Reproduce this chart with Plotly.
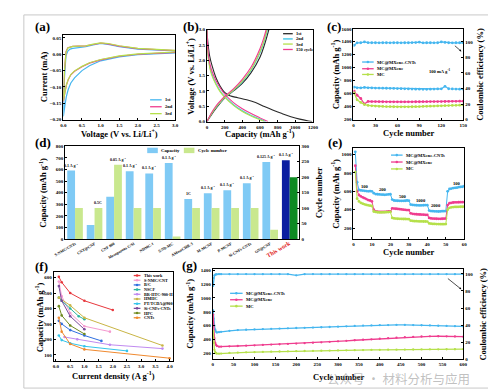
import plotly.graph_objects as go

W, H = 496, 389
FONT = "Liberation Serif"

def px(x):
    return x / W

def py(y):
    return 1 - y / H

# ---------------- (a) CV data ----------------
a_volt = [3.0, 2.5, 2.0, 1.5, 1.0, 0.7, 0.5, 0.3, 0.2, 0.13, 0.08, 0.04, 0.01, 0.0,
          0.03, 0.07, 0.12, 0.18, 0.25, 0.4, 0.6, 0.8, 1.0, 1.2, 1.5, 2.0, 2.5, 3.0]
a_cur_1st = [0.004, 0.002, -0.001, -0.008, -0.020, -0.035, -0.050, -0.072, -0.088, -0.108, -0.130, -0.158, -0.185, -0.19,
             -0.07, -0.005, 0.010, 0.016, 0.018, 0.020, 0.023, 0.029, 0.033, 0.030, 0.023, 0.016, 0.012, 0.010]
a_cur_2nd = [0.006, 0.004, 0.000, -0.006, -0.017, -0.027, -0.038, -0.052, -0.063, -0.078, -0.095, -0.118, -0.140, -0.145,
             -0.05, 0.008, 0.020, 0.023, 0.024, 0.025, 0.026, 0.030, 0.034, 0.032, 0.025, 0.017, 0.013, 0.011]
a_cur_3rd = [0.007, 0.005, 0.001, -0.005, -0.016, -0.026, -0.037, -0.051, -0.062, -0.077, -0.094, -0.117, -0.138, -0.143,
             -0.05, 0.006, 0.019, 0.022, 0.024, 0.025, 0.026, 0.031, 0.035, 0.033, 0.026, 0.018, 0.014, 0.012]
a_names = ["1st", "2nd", "3rd"]

# ---------------- (b) charge/discharge ----------------
b_dis1_cap = [0, 10, 30, 60, 100, 150, 200, 260, 350, 450, 550, 650, 750, 850, 950, 1050, 1150, 1190]
b_dis1_v = [3.0, 2.6, 2.15, 1.8, 1.45, 1.15, 0.95, 0.84, 0.78, 0.71, 0.62, 0.49, 0.37, 0.26, 0.16, 0.08, 0.02, 0.0]
b_ch1_cap = [0, 50, 100, 150, 200, 300, 400, 500, 600, 650, 700]
b_ch1_v = [0.0, 0.22, 0.42, 0.60, 0.77, 1.0, 1.25, 1.6, 2.1, 2.5, 3.0]
b_dis2_cap = [0, 5, 20, 50, 100, 150, 200, 300, 400, 500, 600, 665]
b_dis2_v = [3.0, 2.5, 2.0, 1.6, 1.25, 1.0, 0.82, 0.55, 0.35, 0.2, 0.08, 0.0]
b_ch2_cap = [0, 50, 100, 150, 200, 300, 400, 500, 600, 640, 685]
b_ch2_v = [0.0, 0.25, 0.45, 0.62, 0.78, 1.02, 1.3, 1.68, 2.25, 2.55, 3.0]
b_dis3_cap = [0, 5, 20, 50, 100, 150, 200, 300, 400, 500, 600, 650]
b_dis3_v = [3.0, 2.45, 1.95, 1.55, 1.22, 0.97, 0.8, 0.53, 0.33, 0.18, 0.06, 0.0]
b_ch3_cap = [0, 50, 100, 150, 200, 300, 400, 500, 600, 640, 680]
b_ch3_v = [0.0, 0.25, 0.46, 0.63, 0.79, 1.03, 1.32, 1.7, 2.28, 2.58, 3.0]
b_dis150_cap = [0, 5, 20, 50, 100, 150, 200, 300, 400, 500, 600, 690]
b_dis150_v = [3.0, 2.6, 2.1, 1.7, 1.35, 1.1, 0.9, 0.62, 0.42, 0.26, 0.12, 0.0]
b_ch150_cap = [0, 50, 100, 150, 200, 300, 400, 500, 600, 640, 670]
b_ch150_v = [0.0, 0.28, 0.5, 0.67, 0.82, 1.07, 1.38, 1.78, 2.38, 2.7, 3.0]
b_names = ["1st", "2nd", "3rd", "150 cycle"]

# ---------------- (c) cycling at 100 mA/g ----------------
c_cycles = [1, 5, 10, 15, 20, 25, 30, 35, 40, 45, 50, 55, 60, 65, 70, 75, 80, 85, 90, 95,
            100, 105, 110, 115, 120, 125, 130, 135, 140, 145, 150]
c_cap_cnt = [700, 690, 688, 695, 690, 688, 686, 685, 684, 683, 682, 680, 678, 676, 674, 672, 670, 668, 668, 666,
             667, 668, 670, 672, 674, 712, 675, 672, 670, 668, 668]
c_cap_mx = [640, 575, 525, 440, 480, 478, 477, 476, 475, 474, 474, 473, 473, 473, 473, 474, 474, 475, 475, 476,
            476, 477, 477, 478, 478, 479, 480, 481, 482, 483, 484]
c_cap_mc = [610, 505, 465, 432, 418, 412, 408, 405, 403, 401, 400, 398, 397, 396, 396, 397, 398, 399, 400, 402,
            404, 406, 408, 410, 412, 414, 416, 418, 420, 422, 425]
c_ce_cnt = [95.5, 98.6, 98.7, 99.8, 98.8, 98.7, 98.7, 98.6, 98.7, 98.7, 98.6, 98.7, 98.7, 98.6, 98.7, 98.7, 98.8, 98.9,
            99.5, 98.6, 98.7, 98.7, 98.6, 98.7, 99.8, 99.2, 98.7, 98.6, 98.7, 98.7, 98.6]
s_names = ["MC@MXene-CNTs", "MC@MXene", "MC"]

# ---------------- (d) comparison bars ----------------
d_labels = ["S-NMC/CNTs", "CNT@CNF", "CNF 800", "Mesoporous C/Si", "NDMC-1", "S/Nb-MC",
            "AMesoCHR-3", "M-MCNF", "P-MCNF", "Si-CNFs-CNTs", "GN@CNF", "This work"]
d_capacity = [590, 120, 365, 585, 565, 655, 345, 395, 420, 480, 665, 680]
d_cycles = [100, 100, 240, 100, 100, 8, 100, 100, 100, 100, 30, 200]
d_rates = ["0.1 A g<sup>-1</sup>", "0.5C", "0.05 A g<sup>-1</sup>", "0.1 A g<sup>-1</sup>", "0.1 A g<sup>-1</sup>",
           "0.1 A g<sup>-1</sup>", "1C", "0.1 A g<sup>-1</sup>", "0.1 A g<sup>-1</sup>", "0.1 A g<sup>-1</sup>",
           "0.125 A g<sup>-1</sup>", "0.1 A g<sup>-1</sup>"]
d_rate_on_cycle = [False, True, True, False, False, False, False, False, False, False, False, False]

# ---------------- (e) rate performance ----------------
e_cycles = list(range(1, 61))
e_cap_cnt = [1030, 700, 615, 610, 608, 605, 603, 600, 602, 600, 580, 570, 568, 566, 565, 563, 562, 565, 566, 568,
             510, 500, 498, 497, 496, 495, 496, 497, 500, 498, 455, 452, 450, 448, 447, 446, 447, 448, 450, 449,
             390, 385, 383, 382, 381, 380, 381, 383, 384, 385, 600, 625, 630, 635, 638, 640, 645, 648, 650, 655]
e_cap_mx = [880, 600, 560, 545, 535, 525, 515, 505, 500, 490, 400, 380, 378, 376, 375, 375, 376, 378, 380, 382,
            415, 412, 410, 408, 405, 403, 400, 398, 396, 395, 360, 355, 352, 350, 348, 347, 346, 345, 344, 343,
            310, 305, 303, 302, 301, 300, 300, 301, 302, 303, 450, 470, 475, 478, 480, 480, 481, 482, 482, 483]
e_cap_mc = [810, 520, 490, 475, 465, 458, 452, 447, 443, 440, 380, 375, 372, 370, 370, 371, 372, 373, 374, 375,
            310, 305, 303, 301, 300, 299, 298, 298, 297, 296, 280, 277, 275, 274, 273, 272, 272, 271, 271, 270,
            250, 247, 245, 244, 243, 243, 242, 242, 242, 243, 400, 420, 425, 428, 430, 430, 431, 432, 432, 433]
e_rate_labels = ["100", "200", "500", "1000", "2000", "100"]

# ---------------- (f) rate comparison ----------------
f_names = ["This work", "S-NMC/CNT", "B/C", "NSCF", "BR-HTC-900-II", "HMHC", "PT/TCDA@900",
           "Si-CNFs-CNTs", "HPC", "CNTs"]
f_x = [[0.1, 0.2, 0.5, 1.0, 2.0],
       [0.1, 0.2, 0.5, 1.0, 1.9],
       [0.1, 0.2, 0.5, 1.0, 1.6],
       [0.1, 0.2, 0.5, 0.8, 1.0],
       [0.3, 0.75, 1.9, 3.75],
       [0.1, 0.5, 1.0, 3.75],
       [0.1, 0.2, 0.5, 1.0, 2.5],
       [0.1, 0.2, 0.5, 1.0],
       [0.1, 0.2, 0.5, 1.0],
       [0.1, 0.2, 0.5, 1.0, 4.0]]
f_y = [[605, 570, 500, 450, 390],
       [575, 480, 370, 285, 250],
       [320, 300, 260, 225, 190],
       [470, 450, 400, 350, 330],
       [215, 200, 165, 140],
       [470, 420, 340, 160],
       [225, 195, 175, 155, 125],
       [545, 450, 350, 265],
       [415, 355, 290, 235],
       [340, 250, 170, 135, 78]]
f_colors = ["#e8383d", "#f59ad0", "#2f6fe0", "#2bb5a0", "#c08af0", "#c9b545", "#35c5ea",
            "#7a4a9a", "#6f8a1f", "#f08a30"]

# ---------------- (g) long cycling ----------------
g_cycles = [1, 2, 4, 6, 8, 10, 15, 20] + list(range(40, 601, 20))
g_cap_cnt = [820, 700, 600, 540, 510, 500, 505, 510,
             525, 535, 540, 545, 550, 553, 557, 560, 565, 568, 572, 576, 580, 585, 590,
             595, 600, 603, 606, 608, 610, 610, 608, 605, 602, 598, 595, 592, 588]
g_cap_mx = [760, 600, 420, 350, 320, 305, 295, 295,
            300, 305, 310, 315, 320, 325, 330, 335, 340, 345, 352, 358, 365, 372, 380,
            388, 395, 402, 410, 418, 425, 432, 438, 442, 445, 446, 445, 442, 440]
g_cap_mc = [520, 350, 250, 215, 200, 195, 193, 195,
            205, 210, 213, 216, 219, 222, 225, 227, 230, 232, 234, 236, 238, 240, 242,
            244, 246, 248, 250, 251, 252, 253, 254, 255, 256, 257, 258, 258, 259]
g_ce_cnt = [86, 95, 98, 99, 99.3, 99.4, 99.5, 99.5,
            99.5, 99.5, 99.6, 99.5, 99.5, 99.6, 99.5, 99.5, 98.2, 99.5, 99.6, 99.5, 99.5, 99.6, 99.5,
            99.5, 99.6, 99.5, 99.5, 99.6, 99.5, 99.5, 99.6, 99.5, 99.5, 99.6, 99.5, 99.5, 99.6]

# ---------------- colours ----------------
BLUE = "#45b6ef"
PINK = "#ef3d8f"
GREEN = "#b5e04a"
BLACK = "#2a2a2a"
s_colors = [BLUE, PINK, GREEN]

TF = dict(family=FONT, size=5, color="black", weight="bold")


def xax(dom, rng, anchor, **kw):
    d = dict(domain=[px(dom[0]), px(dom[1])], range=rng, anchor=anchor, showline=True,
             linecolor="black", linewidth=1, mirror=True, ticks="inside", ticklen=2,
             tickwidth=0.8, tickcolor="black", showgrid=False, zeroline=False, tickfont=TF)
    d.update(kw)
    return d


def yax(dom, rng, anchor, **kw):
    d = dict(domain=[py(dom[1]), py(dom[0])], range=rng, anchor=anchor, showline=True,
             linecolor="black", linewidth=1, mirror=True, ticks="inside", ticklen=2,
             tickwidth=0.8, tickcolor="black", showgrid=False, zeroline=False, tickfont=TF)
    d.update(kw)
    return d


fig = go.Figure()

# (a)
for cur, nm, col in zip([a_cur_1st, a_cur_2nd, a_cur_3rd], a_names, [BLUE, PINK, GREEN]):
    fig.add_trace(go.Scatter(x=a_volt, y=cur, mode="lines", line=dict(color=col, width=1.2),
                             name=nm, xaxis="x", yaxis="y", showlegend=False))

# (b)
b_sets = [(b_dis1_cap, b_dis1_v, b_ch1_cap, b_ch1_v, BLACK),
          (b_dis2_cap, b_dis2_v, b_ch2_cap, b_ch2_v, "#33c4e8"),
          (b_dis3_cap, b_dis3_v, b_ch3_cap, b_ch3_v, GREEN),
          (b_dis150_cap, b_dis150_v, b_ch150_cap, b_ch150_v, PINK)]
for (dc, dv, cc, cv, col), nm in zip(b_sets, b_names):
    fig.add_trace(go.Scatter(x=dc, y=dv, mode="lines", line=dict(color=col, width=1.1, shape="spline"),
                             name=nm, xaxis="x2", yaxis="y2", showlegend=False))
    fig.add_trace(go.Scatter(x=cc, y=cv, mode="lines", line=dict(color=col, width=1.1, shape="spline"),
                             name=nm, xaxis="x2", yaxis="y2", showlegend=False))

# (c)
for cap, nm, col in zip([c_cap_cnt, c_cap_mx, c_cap_mc], s_names, s_colors):
    fig.add_trace(go.Scatter(x=c_cycles, y=cap, mode="lines+markers", line=dict(color=col, width=1.2),
                             marker=dict(size=2.8, color=col), name=nm, xaxis="x3", yaxis="y3", showlegend=False))
fig.add_trace(go.Scatter(x=c_cycles, y=c_ce_cnt, mode="lines+markers", line=dict(color=BLUE, width=1.2),
                         marker=dict(size=2.8, color=BLUE), name="CE", xaxis="x3", yaxis="y4", showlegend=False))

# (d)
cap_cols = ["#7fcaf5"] * (len(d_labels) - 1) + ["#0b1ea0"]
cyc_cols = ["#c9e88e"] * (len(d_labels) - 1) + ["#0d8a22"]
fig.add_trace(go.Bar(x=d_labels, y=d_capacity, marker=dict(color=cap_cols, line=dict(width=0)),
                     offsetgroup="cap", name="Capacity", xaxis="x4", yaxis="y5", showlegend=False))
fig.add_trace(go.Bar(x=d_labels, y=d_cycles, marker=dict(color=cyc_cols, line=dict(width=0)),
                     offsetgroup="cyc", name="Cycle number", xaxis="x4", yaxis="y6", showlegend=False))

# (e)
for cap, nm, col in zip([e_cap_cnt, e_cap_mx, e_cap_mc], s_names, s_colors):
    fig.add_trace(go.Scatter(x=e_cycles, y=cap, mode="lines+markers", line=dict(color=col, width=1.0),
                             marker=dict(size=2.8, color=col), name=nm, xaxis="x5", yaxis="y7", showlegend=False))

# (f)
for xs, ys, nm, col in zip(f_x, f_y, f_names, f_colors):
    fig.add_trace(go.Scatter(x=xs, y=ys, mode="lines+markers", line=dict(color=col, width=1.0),
                             marker=dict(size=2.6, color=col), name=nm, xaxis="x6", yaxis="y8", showlegend=False))

# (g)
for cap, nm, col in zip([g_cap_cnt, g_cap_mx, g_cap_mc], s_names, s_colors):
    fig.add_trace(go.Scatter(x=g_cycles, y=cap, mode="lines+markers", line=dict(color=col, width=1.3),
                             marker=dict(size=2.3, color=col), name=nm, xaxis="x7", yaxis="y9", showlegend=False))
fig.add_trace(go.Scatter(x=g_cycles, y=g_ce_cnt, mode="lines+markers", line=dict(color=BLUE, width=1.3),
                         marker=dict(size=2.3, color=BLUE), name="CE", xaxis="x7", yaxis="y10", showlegend=False))

# ---------------- axes ----------------
layout_axes = dict(
    xaxis=xax([45, 161], [0, 3], "y", dtick=0.5, tickformat=".1f"),
    yaxis=yax([25, 111], [-0.2, 0.06], "x", dtick=0.05, tickformat=".2f"),
    xaxis2=xax([194, 304], [0, 1200], "y2", dtick=200),
    yaxis2=yax([20, 113], [0, 3.0], "x2", dtick=0.5, tickformat=".1f"),
    xaxis3=xax([346, 460], [0, 150], "y3", dtick=30),
    yaxis3=yax([19, 111], [200, 1600], "x3", dtick=200),
    yaxis4=yax([19, 111], [0, 116.7], "x3", overlaying="y3", side="right", mirror=False,
               tickvals=[0, 20, 40, 60, 80, 100]),
    xaxis4=xax([47, 290], [-0.5, 11.5], "y5", type="category", tickangle=-30, ticks="",
               tickmode="array", tickvals=d_labels,
               ticktext=d_labels[:-1] + ['<span style="color:#e02020;font-size:6px">This work</span>'],
               tickfont=dict(family=FONT, size=4, color="black", weight="bold")),
    yaxis5=yax([138, 232], [0, 800], "x4", dtick=100),
    yaxis6=yax([138, 232], [0, 300], "x4", overlaying="y5", side="right", mirror=False, dtick=50),
    xaxis5=xax([346, 461], [0, 60], "y7", dtick=10),
    yaxis7=yax([140, 232], [80, 1070], "x5", tickvals=[200, 400, 600, 800, 1000]),
    xaxis6=xax([35, 159], [-0.08, 4.13], "y8", dtick=0.5, tickformat=".1f"),
    yaxis8=yax([265, 356], [57, 639], "x6", tickvals=[100, 200, 300, 400, 500, 600]),
    xaxis7=xax([200, 460], [0, 600], "y9", dtick=50),
    yaxis9=yax([262, 354], [110, 1425], "x7", tickvals=[200, 400, 600, 800, 1000, 1200, 1400]),
    yaxis10=yax([262, 354], [0, 106], "x7", overlaying="y9", side="right", mirror=False,
                tickvals=[0, 20, 40, 60, 80, 100]),
)

# ---------------- annotations ----------------
ann = []
shapes = []


def txt(x, y, s, size=8.5, angle=0, color="black", xanchor="center", yanchor="middle", family=FONT, bold=True):
    ann.append(dict(x=px(x), y=py(y), xref="paper", yref="paper", text=s, showarrow=False,
                    textangle=angle, xanchor=xanchor, yanchor=yanchor,
                    font=dict(family=family, size=size, color=color, weight="bold" if bold else "normal")))


def leg(x0, x1, y, color, label, marker=False, size=4.5):
    shapes.append(dict(type="line", xref="paper", yref="paper", x0=px(x0), x1=px(x1), y0=py(y), y1=py(y),
                       line=dict(color=color, width=1.3)))
    if marker:
        xc = (x0 + x1) / 2
        shapes.append(dict(type="circle", xref="paper", yref="paper", x0=px(xc - 1.3), x1=px(xc + 1.3),
                           y0=py(y + 1.3), y1=py(y - 1.3), fillcolor=color, line=dict(width=0)))
    txt(x1 + 1.5, y, label, size=size, xanchor="left")


# panel labels
for lab, x, y in [("(a)", 14, 17), ("(b)", 167, 17), ("(c)", 316, 17), ("(d)", 14, 134),
                  ("(e)", 318, 134), ("(f)", 14, 260), ("(g)", 166, 259)]:
    txt(x, y, lab, size=13, xanchor="left")

CAP = "Capacity (mAh g<sup>-1</sup>)"
# axis titles
txt(103, 125, "Voltage (V vs. Li/Li<sup>+</sup>)")
txt(25, 68, "Current (mA)", angle=-90)
txt(249, 125.5, CAP)
txt(177, 67, "Voltage (V vs. Li/Li<sup>+</sup>)", angle=-90)
txt(403, 125, "Cycle number")
txt(327, 65, CAP, angle=-90)
txt(478, 65, "Coulombic efficiency (%)", angle=-90)
txt(24, 185, CAP, angle=-90)
txt(310, 185, "Cycle number", angle=-90)
txt(403, 245, "Cycle number")
txt(328, 186, CAP, angle=-90)
txt(97, 370, "Current density (A g<sup>-1</sup>)")
txt(20, 311, CAP, angle=-90)
txt(330, 372, "Cycle number")
txt(176, 308, CAP, angle=-90)
txt(480, 308, "Coulombic efficiency (%)", angle=-90)

# legends
for (nm, col, y) in zip(a_names, [BLUE, PINK, GREEN], [91, 98, 105]):
    leg(135, 147, y, col, nm, size=4.5)
for (nm, col, y) in zip(b_names, [BLACK, "#33c4e8", GREEN, PINK], [24, 29.3, 34.5, 40]):
    leg(273, 283, y, col, nm, size=4.5)
for (nm, col, y) in zip(s_names, s_colors, [52.7, 59.5, 65.3]):
    leg(355, 367, y, col, nm, marker=True, size=4.6)
txt(435, 62, "100 mA g<sup>-1</sup>", size=4.6)
for (nm, col, y) in zip(s_names, s_colors, [147, 154, 161]):
    leg(385, 397, y, col, nm, marker=True, size=4.6)
for (nm, col, y) in zip(s_names, s_colors, [287, 293.5, 300]):
    leg(218, 231, y, col, nm, marker=True, size=4.6)
for i, (nm, col) in enumerate(zip(f_names, f_colors)):
    leg(118, 125, 269 + i * 4.75, col, nm, marker=True, size=4.2)

# (d) legend boxes
shapes.append(dict(type="rect", xref="paper", yref="paper", x0=px(132), x1=px(143), y0=py(145), y1=py(139.5),
                   fillcolor="#7fcaf5", line=dict(width=0)))
txt(144.5, 142.3, "Capacity", size=4.8, xanchor="left")
shapes.append(dict(type="rect", xref="paper", yref="paper", x0=px(170), x1=px(181), y0=py(145), y1=py(139.5),
                   fillcolor="#c9e88e", line=dict(width=0)))
txt(182.5, 142.3, "Cycle number", size=4.8, xanchor="left")

# (d) rate labels above bars (data coordinates)
for i, (lab, cap, cyc, on_cyc) in enumerate(zip(d_rates, d_capacity, d_cycles, d_rate_on_cycle)):
    if on_cyc:
        ann.append(dict(x=i + 0.2, y=cyc, xref="x4", yref="y6", text=lab, showarrow=False, yanchor="bottom",
                        yshift=1, font=dict(family=FONT, size=4, color="black", weight="bold")))
    else:
        ann.append(dict(x=i - 0.2, y=cap, xref="x4", yref="y5", text=lab, showarrow=False, yanchor="bottom",
                        yshift=1, font=dict(family=FONT, size=4, color="black", weight="bold")))

# (e) current density labels
for lab, x, y in zip(e_rate_labels, [358, 377, 397, 416, 432, 453], [179, 182, 189, 193, 198, 176]):
    txt(x, y, lab, size=4.6)

# arrows toward the right axes
ann.append(dict(x=px(458), y=py(42), xref="paper", yref="paper", ax=-8, ay=-7, showarrow=True,
                arrowhead=2, arrowsize=0.6, arrowwidth=0.7, arrowcolor="black", text=""))
ann.append(dict(x=px(458), y=py(283), xref="paper", yref="paper", ax=-15, ay=-12, showarrow=True,
                arrowhead=2, arrowsize=0.6, arrowwidth=0.7, arrowcolor="black", text=""))

# watermark
txt(393, 373, "公众号 · 材料分析与应用", size=12.5, color="rgba(140,140,140,0.55)",
    family="Noto Sans CJK SC", bold=False)

# outer border
shapes.append(dict(type="rect", xref="paper", yref="paper", x0=px(4), x1=px(492), y0=py(383), y1=py(5),
                   line=dict(color="#c8c8c8", width=1)))

fig.update_layout(
    width=W, height=H, margin=dict(l=0, r=0, t=0, b=0),
    paper_bgcolor="white", plot_bgcolor="rgba(0,0,0,0)",
    barmode="group", bargap=0.2, bargroupgap=0.0,
    font=dict(family=FONT, color="black"),
    annotations=ann, shapes=shapes,
    **layout_axes,
)

fig.write_html("out.html")
